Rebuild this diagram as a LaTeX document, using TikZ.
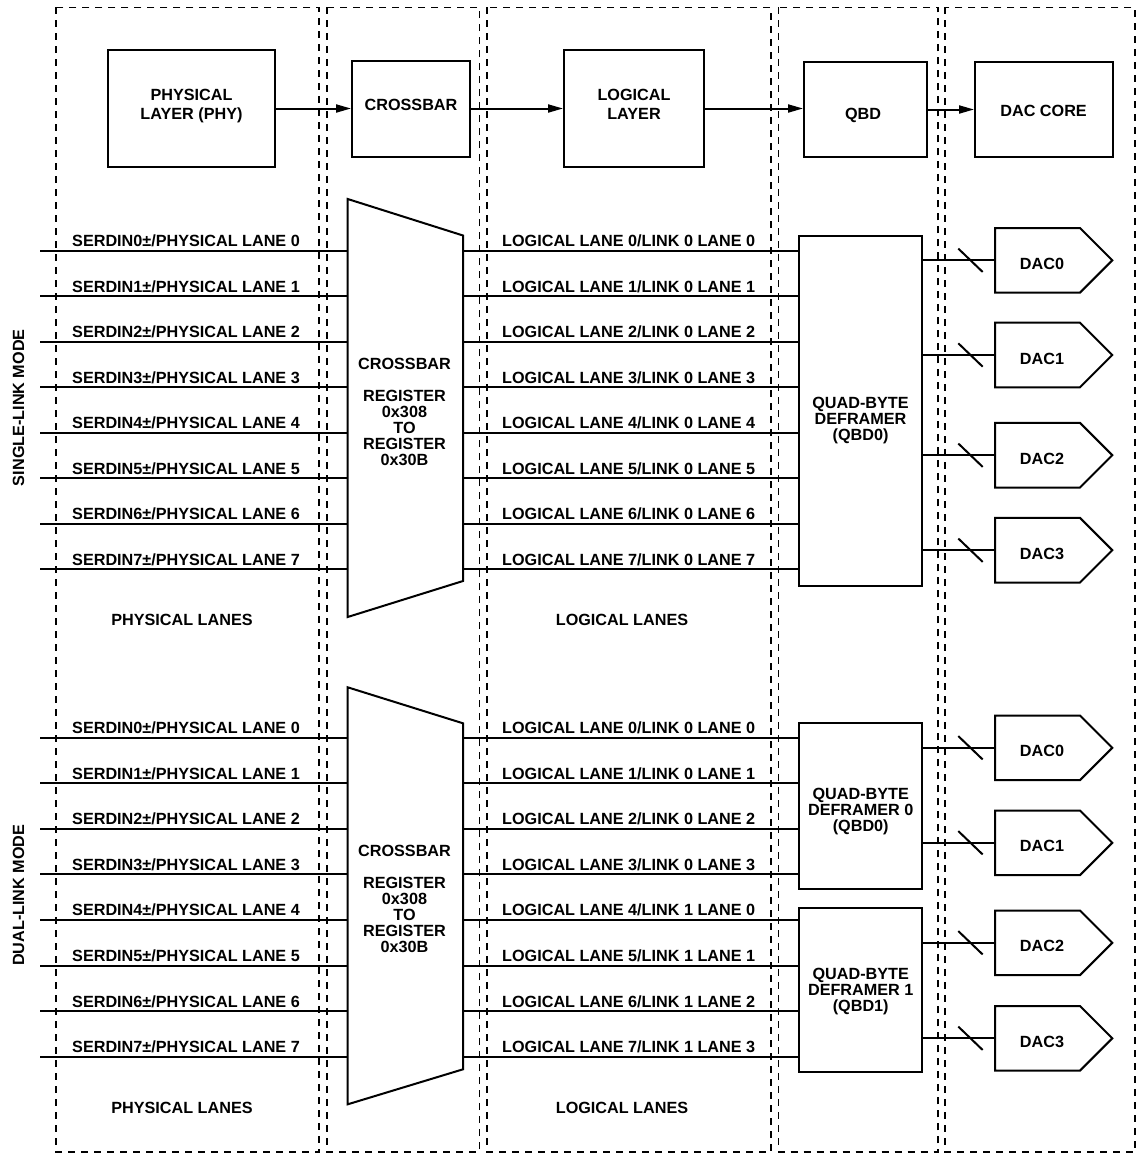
\documentclass[tikz,border=0pt]{standalone}
\usepackage{fontspec}
\setmainfont{Liberation Sans}
\usetikzlibrary{arrows.meta}
\newcommand\dfont{\bfseries\fontsize{16.2}{16}\selectfont}
\tikzset{
  ln/.style={line width=2pt},
  colbox/.style={draw, line width=1.6pt, dash pattern=on 7pt off 6pt},
  blk/.style={draw, line width=2pt, inner sep=0pt},
  txt/.style={font=\dfont, inner sep=0pt, anchor=base},
  arr/.style={ln, -{Triangle[length=15pt,width=8pt]}},
}
\newcommand\dacshape[3]{%
  \draw[ln] (995,#2-32.3) -- (1080,#2-32.3) -- (1112.3,#2) -- (1080,#2+32.3) -- (995,#2+32.3) -- cycle;
  \coordinate (#1in) at (995,#2);
  \node[txt] (#1t) at (1042,#2+9) {#3};
}
\newcommand\dacout[2]{% #1 source box, #2 dac name
  \draw[ln] (#1.east |- #2in) -- (#2in);
  \draw[ln] ([shift={(-36.7,-11.7)}]#2in) -- ([shift={(-12.3,11.7)}]#2in);
}
\begin{document}
\begin{tikzpicture}[x=1pt,y=-1pt]
\useasboundingbox (0,0) rectangle (1137,1154);

% dashed column frames
\draw[colbox] (56,7.3) rectangle (319,1152);
\draw[colbox] (327,7.3) rectangle (479.3,1152);
\draw[colbox] (486.8,7.3) rectangle (770.8,1152);
\draw[colbox] (778.3,7.3) rectangle (938,1152);
\draw[colbox] (944.7,7.3) rectangle (1134.8,1152);

% top row
\node[blk, minimum width=167, minimum height=117] (phy) at (191.5,108.5) {};
\node[txt] (phyt1) at (191.5,100) {PHYSICAL};
\node[txt] (phyt2) at (191.5,119.5) {LAYER (PHY)};
\node[blk, minimum width=118, minimum height=96] (xbar) at (411,108.5) {};
\node[txt] (xbart) at (411,110) {CROSSBAR};
\node[blk, minimum width=140, minimum height=117] (logic) at (634,108.5) {};
\node[txt] (logict1) at (634,100) {LOGICAL};
\node[txt] (logict2) at (634,119.5) {LAYER};
\node[blk, minimum width=123, minimum height=95] (qbd) at (865.5,109.5) {};
\node[txt] (qbdt) at (863,119) {QBD};
\node[blk, minimum width=138, minimum height=95] (dcore) at (1044,109.5) {};
\node[txt] (dcoret) at (1043.6,116) {DAC CORE};

\draw[arr] (phy.east) -- (phy.east -| xbar.west);
\draw[arr] (xbar.east) -- (xbar.east -| logic.west);
\draw[arr] (logic.east) -- (logic.east -| qbd.west);
\draw[arr] (qbd.east) -- (qbd.east -| dcore.west);

% ---------------- single-link mode ----------------
\node[txt, rotate=90] (smode) at (24,407.7) {SINGLE-LINK MODE};
\draw[ln] (347.7,199) -- (463,235.5) -- (463,581) -- (347.7,617) -- cycle;
\foreach \yb/\t [count=\k] in {369.3/CROSSBAR, 401/REGISTER, 417/0x308, 433/TO, 449/REGISTER, 465/0x30B}
  \node[txt] (sx\k) at (404.5,\yb) {\t};

\node[blk, minimum width=123, minimum height=350] (q0) at (860.2,410.7) {};
\node[txt] (q0t1) at (860.5,408.3) {QUAD-BYTE};
\node[txt] (q0t2) at (860.5,424.3) {DEFRAMER};
\node[txt] (q0t3) at (860.5,440.3) {(QBD0)};

\foreach \i in {0,...,7} {
  \pgfmathsetmacro\yy{250.7+45.5*\i}
  \coordinate (sa\i) at (40,\yy);
  \coordinate (sb\i) at (347.7,\yy);
  \coordinate (sc\i) at (463,\yy);
  \draw[ln] (sa\i) -- (sb\i);
  \draw[ln] (sc\i) -- (sc\i -| q0.west);
  \node[txt, anchor=base west] (sp\i) at (72,\yy-4) {SERDIN\i±/PHYSICAL LANE \i};
  \node[txt, anchor=base west] (sl\i) at (502,\yy-4) {LOGICAL LANE \i/LINK 0 LANE \i};
}
\node[txt] (spl) at (182,625) {PHYSICAL LANES};
\node[txt] (sll) at (622,625) {LOGICAL LANES};

\dacshape{sdac0}{260.3}{DAC0}
\dacshape{sdac1}{355}{DAC1}
\dacshape{sdac2}{455.2}{DAC2}
\dacshape{sdac3}{550.2}{DAC3}
\dacout{q0}{sdac0}
\dacout{q0}{sdac1}
\dacout{q0}{sdac2}
\dacout{q0}{sdac3}

% ---------------- dual-link mode ----------------
\node[txt, rotate=90] (dmode) at (24,895.3) {DUAL-LINK MODE};
\draw[ln] (347.7,687.3) -- (463,723.3) -- (463,1069.3) -- (347.7,1104.3) -- cycle;
\foreach \yb/\t [count=\k] in {856.3/CROSSBAR, 888/REGISTER, 904/0x308, 920/TO, 936/REGISTER, 952/0x30B}
  \node[txt] (dx\k) at (404.5,\yb) {\t};

\node[blk, minimum width=123, minimum height=165.7] (d0) at (860.2,806.15) {};
\node[txt] (d0t1) at (860.7,799.3) {QUAD-BYTE};
\node[txt] (d0t2) at (860.7,815.3) {DEFRAMER 0};
\node[txt] (d0t3) at (860.7,831.3) {(QBD0)};
\node[blk, minimum width=123, minimum height=164] (d1) at (860.2,990.3) {};
\node[txt] (d1t1) at (860.7,979.3) {QUAD-BYTE};
\node[txt] (d1t2) at (860.7,995.3) {DEFRAMER 1};
\node[txt] (d1t3) at (860.7,1011.3) {(QBD1)};

\foreach \i in {0,...,7} {
  \pgfmathsetmacro\yy{737.7+45.57*\i}
  \pgfmathtruncatemacro\lkn{\i/4}
  \pgfmathtruncatemacro\lnn{mod(\i,4)}
  \coordinate (da\i) at (40,\yy);
  \coordinate (db\i) at (347.7,\yy);
  \coordinate (dc\i) at (463,\yy);
  \draw[ln] (da\i) -- (db\i);
  \node[txt, anchor=base west] (dp\i) at (72,\yy-4) {SERDIN\i±/PHYSICAL LANE \i};
  \node[txt, anchor=base west] (dl\i) at (502,\yy-4) {LOGICAL LANE \i/LINK \lkn\ LANE \lnn};
}
\foreach \i in {0,...,3} \draw[ln] (dc\i) -- (dc\i -| d0.west);
\foreach \i in {4,...,7} \draw[ln] (dc\i) -- (dc\i -| d1.west);
\node[txt] (dpl) at (182,1113.3) {PHYSICAL LANES};
\node[txt] (dll) at (622,1113.3) {LOGICAL LANES};

\dacshape{ddac0}{747.8}{DAC0}
\dacshape{ddac1}{842.8}{DAC1}
\dacshape{ddac2}{942.8}{DAC2}
\dacshape{ddac3}{1038.3}{DAC3}
\dacout{d0}{ddac0}
\dacout{d0}{ddac1}
\dacout{d1}{ddac2}
\dacout{d1}{ddac3}
\end{tikzpicture}
\end{document}
